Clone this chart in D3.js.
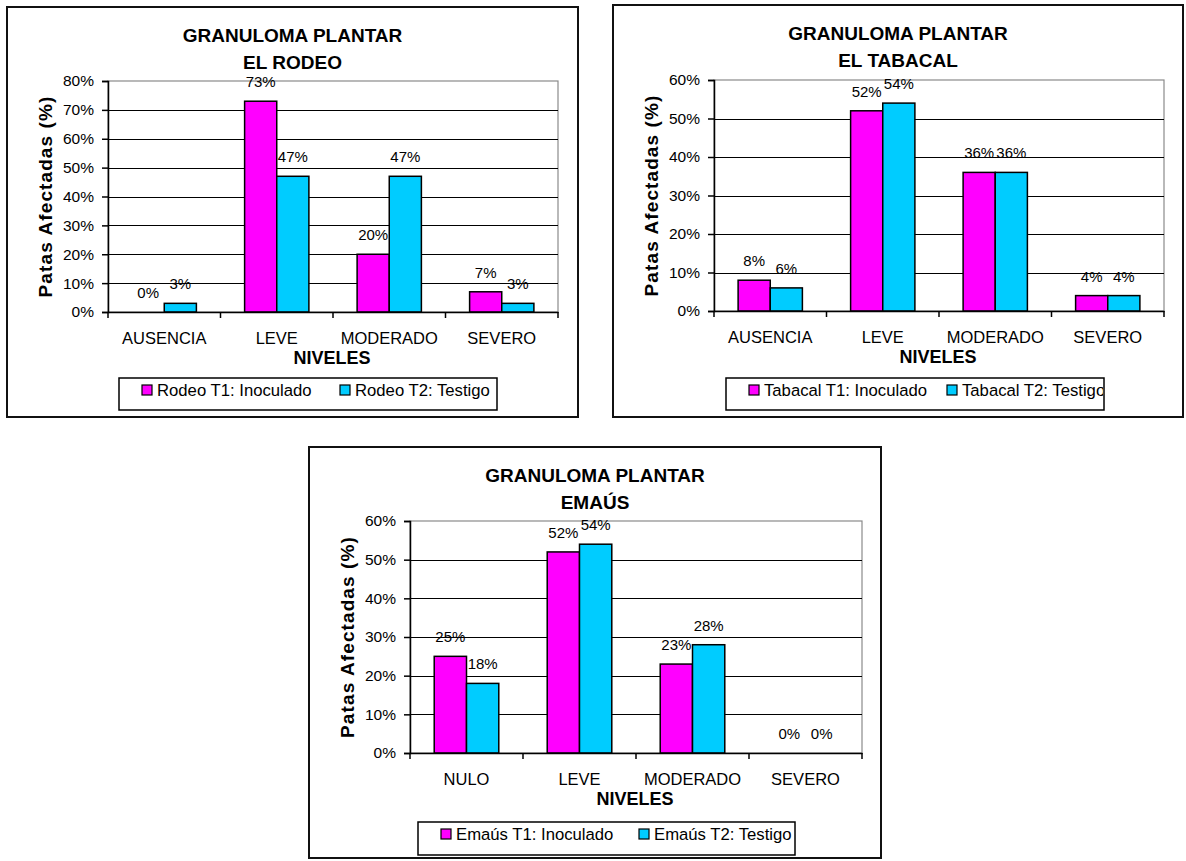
<!DOCTYPE html>
<html>
<head>
<meta charset="utf-8">
<script src="https://cdn.jsdelivr.net/npm/d3@7"></script>
<style>
  html, body { margin: 0; padding: 0; background: #fff; }
  svg { display: block; }
  text { font-family: "Liberation Sans", Arial, sans-serif; fill: #000; }
</style>
</head>
<body>
<svg id="fig" width="1186" height="861"></svg>
<script>
// ---- data -------------------------------------------------------------
const titleMain = "GRANULOMA PLANTAR";
const xTitle = "NIVELES";
const yTitle = "Patas Afectadas (%)";

const rodeoLevels = ["AUSENCIA", "LEVE", "MODERADO", "SEVERO"];
const rodeoSeries = ["Rodeo T1: Inoculado", "Rodeo T2: Testigo"];
const rodeoT1 = [0, 73, 20, 7];
const rodeoT2 = [3, 47, 47, 3];
const rodeoTicks = [0, 10, 20, 30, 40, 50, 60, 70, 80];

const tabacalLevels = ["AUSENCIA", "LEVE", "MODERADO", "SEVERO"];
const tabacalSeries = ["Tabacal T1: Inoculado", "Tabacal T2: Testigo"];
const tabacalT1 = [8, 52, 36, 4];
const tabacalT2 = [6, 54, 36, 4];
const tabacalTicks = [0, 10, 20, 30, 40, 50, 60];

const emausLevels = ["NULO", "LEVE", "MODERADO", "SEVERO"];
const emausSeries = ["Emaús T1: Inoculado", "Emaús T2: Testigo"];
const emausT1 = [25, 52, 23, 0];
const emausT2 = [18, 54, 28, 0];
const emausTicks = [0, 10, 20, 30, 40, 50, 60];

const seriesColors = ["#ff00ff", "#00ccff"];

// ---- layout of the three panels --------------------------------------
const panels = [
  { sub: "EL RODEO", levels: rodeoLevels, series: rodeoSeries, values: [rodeoT1, rodeoT2], ticks: rodeoTicks,
    box: [7, 7, 578, 417], plot: [108, 81, 558, 312], legend: [119, 378, 497, 410] },
  { sub: "EL TABACAL", levels: tabacalLevels, series: tabacalSeries, values: [tabacalT1, tabacalT2], ticks: tabacalTicks,
    box: [613, 5, 1183, 417], plot: [714, 80, 1164, 311], legend: [726, 378, 1104, 410] },
  { sub: "EMAÚS", levels: emausLevels, series: emausSeries, values: [emausT1, emausT2], ticks: emausTicks,
    box: [309, 447, 881, 858], plot: [410, 521, 862, 753], legend: [418, 822, 795, 855] }
];

const svg = d3.select("#fig");
const defs = svg.append("defs");

panels.forEach((p, i) => {
  const [bx0, by0, bx1, by1] = p.box;
  const [px0, py0, px1, py1] = p.plot;
  const g = svg.append("g");

  // chart frame
  g.append("rect")
    .attr("x", bx0).attr("y", by0)
    .attr("width", bx1 - bx0).attr("height", by1 - by0)
    .attr("fill", "#fff").attr("stroke", "#111").attr("stroke-width", 2);

  const cx = (bx0 + bx1) / 2;

  // titles
  g.append("text").attr("x", cx).attr("y", by0 + 28 + 6.8)
    .attr("text-anchor", "middle").attr("font-weight", "bold").attr("font-size", 19)
    .text(titleMain);
  g.append("text").attr("x", cx).attr("y", by0 + 55 + 6.8)
    .attr("text-anchor", "middle").attr("font-weight", "bold").attr("font-size", 19)
    .text(p.sub);

  // scales
  const yMax = d3.max(p.ticks);
  const y = d3.scaleLinear().domain([0, yMax]).range([py1, py0]);
  const x0 = d3.scaleBand().domain(p.levels).range([px0, px1]).padding(0);
  const x1 = d3.scaleBand().domain([0, 1]).range([0, x0.bandwidth()])
    .paddingInner(0).paddingOuter(0.75);

  // plot area outline (top/right edges)
  g.append("rect")
    .attr("x", px0).attr("y", py0).attr("width", px1 - px0).attr("height", py1 - py0)
    .attr("fill", "none").attr("stroke", "#8a8a8a").attr("stroke-width", 1.2);

  // horizontal gridlines
  g.append("g").selectAll("line")
    .data(p.ticks.filter(t => t > 0 && t < yMax))
    .join("line")
    .attr("x1", px0).attr("x2", px1)
    .attr("y1", d => Math.round(y(d)) + 0.5).attr("y2", d => Math.round(y(d)) + 0.5)
    .attr("stroke", "#000").attr("stroke-width", 1.2);

  // bars
  const rows = p.levels.map((lv, k) => ({ lv, vals: p.values.map(v => v[k]) }));
  const grp = g.append("g").selectAll("g").data(rows).join("g")
    .attr("transform", d => `translate(${x0(d.lv)},0)`);
  grp.selectAll("rect")
    .data(d => d.vals.map((v, s) => ({ v, s })))
    .join("rect")
    .attr("x", d => x1(d.s))
    .attr("width", x1.bandwidth())
    .attr("y", d => y(d.v))
    .attr("height", d => y(0) - y(d.v))
    .attr("fill", d => seriesColors[d.s])
    .attr("stroke", "#000").attr("stroke-width", 1.5)
    .attr("visibility", d => d.v > 0 ? "visible" : "hidden");

  // value labels
  grp.selectAll("text")
    .data(d => d.vals.map((v, s) => ({ v, s })))
    .join("text")
    .attr("x", d => x1(d.s) + x1.bandwidth() / 2)
    .attr("y", d => y(d.v) - 14)
    .attr("text-anchor", "middle").attr("font-size", 15)
    .text(d => d.v + "%");

  // y axis
  const yAxis = g.append("g").attr("transform", `translate(${px0},0)`)
    .call(d3.axisLeft(y).tickValues(p.ticks).tickFormat(d => d + "%").tickSize(6).tickPadding(8));
  yAxis.selectAll("text").attr("font-size", 15.5).attr("font-family", null);
  yAxis.selectAll("line, path").attr("stroke", "#000").attr("stroke-width", 1.5);

  // x axis: category labels and boundary ticks
  const xAxis = g.append("g").attr("transform", `translate(0,${py1})`)
    .call(d3.axisBottom(x0).tickSize(0).tickPadding(0));
  xAxis.select(".domain").attr("stroke", "#000").attr("stroke-width", 1.5);
  xAxis.selectAll("text").attr("font-size", 16.5).attr("font-family", null)
    .attr("dy", null).attr("transform", null)
    .attr("y", 26 + 5.9);
  const bounds = p.levels.map(l => x0(l)).concat([px1]);
  xAxis.selectAll("line.bound").data(bounds).join("line").attr("class", "bound")
    .attr("x1", d => d).attr("x2", d => d).attr("y1", 0).attr("y2", 6)
    .attr("stroke", "#000").attr("stroke-width", 1.5);

  // axis titles
  g.append("text").attr("x", (px0 + px1) / 2 - 1).attr("y", py1 + 46 + 6.4)
    .attr("text-anchor", "middle").attr("font-weight", "bold").attr("font-size", 18)
    .text(xTitle);
  g.append("text")
    .attr("transform", `translate(${bx0 + 38 + 6.8},${(py0 + py1) / 2}) rotate(-90)`)
    .attr("text-anchor", "middle").attr("font-weight", "bold").attr("font-size", 19)
    .attr("letter-spacing", 1.1)
    .text(yTitle);

  // legend (entries are clipped to the legend frame)
  const [lx0, ly0, lx1, ly1] = p.legend;
  const clipId = "legclip" + i;
  defs.append("clipPath").attr("id", clipId).append("rect")
    .attr("x", lx0).attr("y", ly0).attr("width", lx1 - lx0 - 1).attr("height", ly1 - ly0);
  const lg = g.append("g");
  lg.append("rect").attr("x", lx0).attr("y", ly0).attr("width", lx1 - lx0).attr("height", ly1 - ly0)
    .attr("fill", "#fff").attr("stroke", "#000").attr("stroke-width", 1.5);
  const lyc = ly0 + 12;
  const items = lg.append("g").attr("clip-path", `url(#${clipId})`)
    .selectAll("g").data(p.series).join("g")
    .attr("transform", (d, s) => `translate(${lx0 + (s === 0 ? 23 : 221)},${lyc})`);
  items.append("rect").attr("x", 0).attr("y", -5).attr("width", 10).attr("height", 10)
    .attr("fill", (d, s) => seriesColors[s]).attr("stroke", "#000").attr("stroke-width", 1.2);
  items.append("text").attr("x", 15).attr("y", 6).attr("font-size", 16.7).text(d => d);
});
</script>
</body>
</html>
